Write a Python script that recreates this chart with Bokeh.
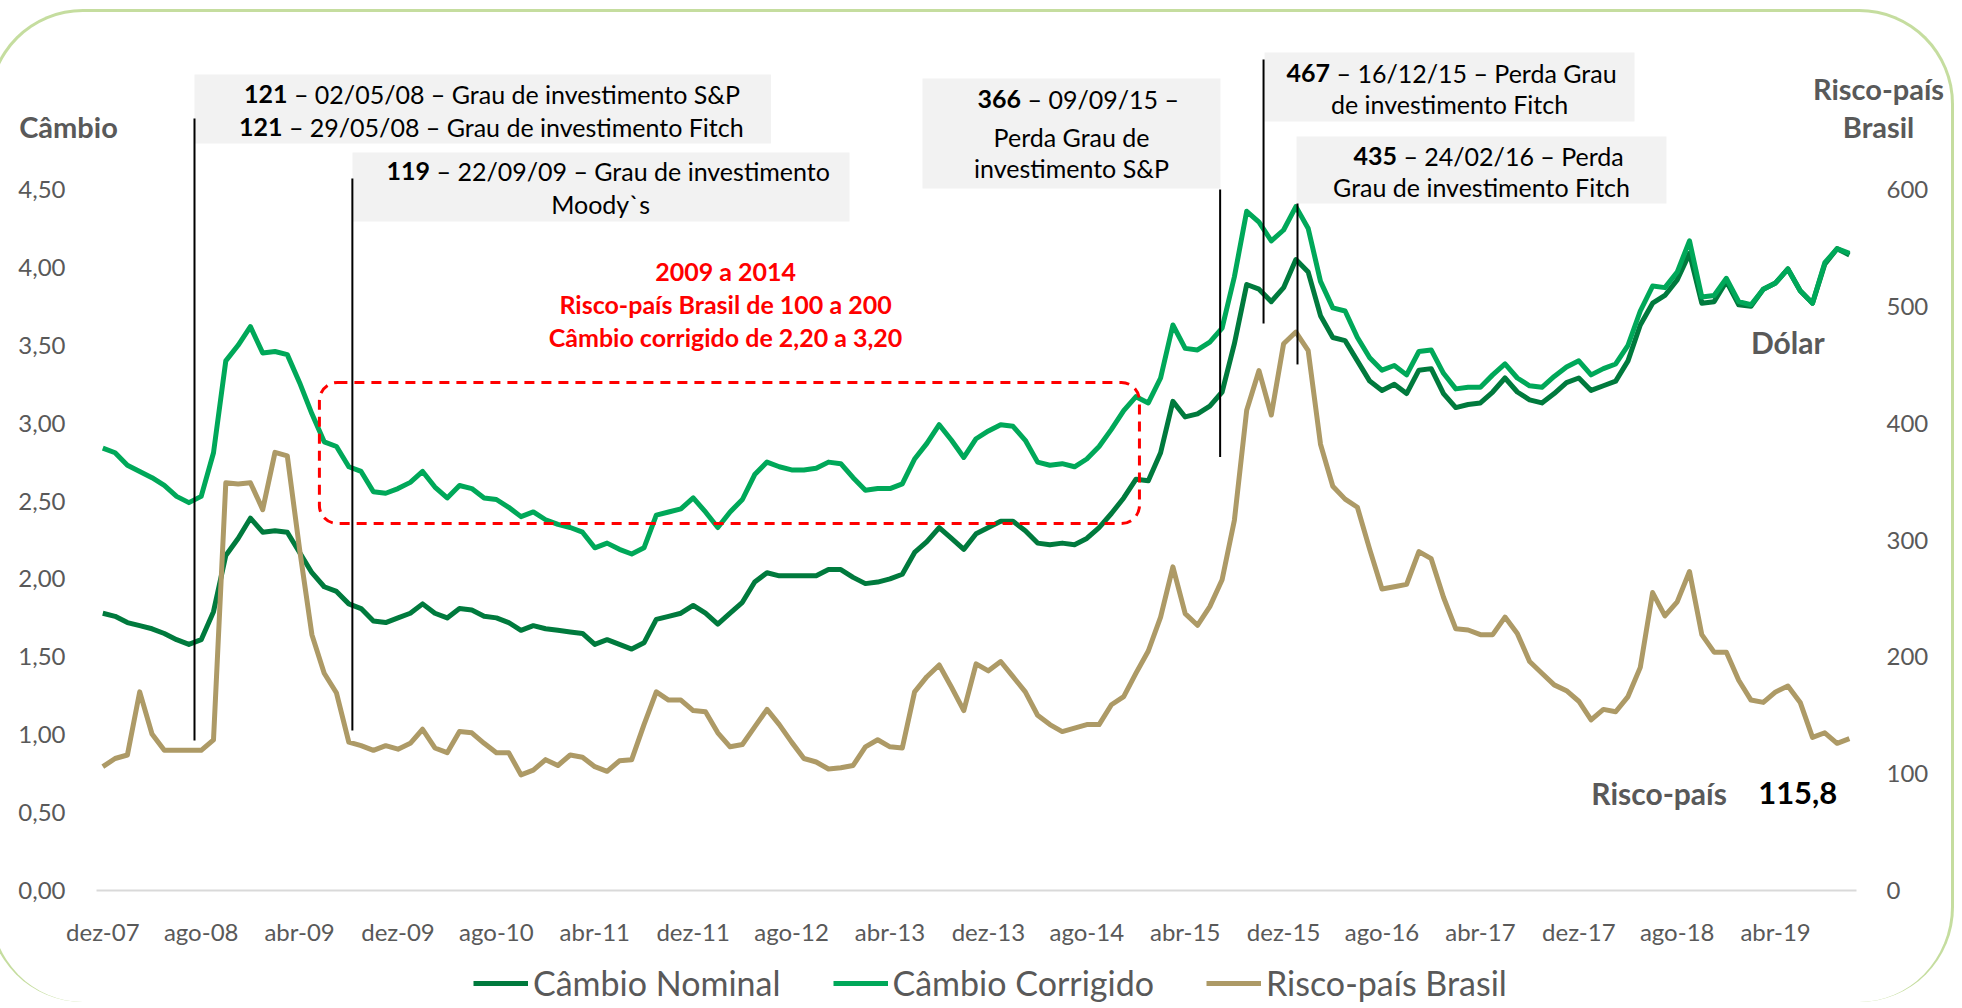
from bokeh.plotting import figure
from bokeh.models import (Range1d, LinearAxis, FixedTicker, CustomJSTickFormatter, Label,
                          BoxAnnotation, Legend, LegendItem)
from bokeh.embed import file_html
from bokeh.resources import INLINE

# ---------------- data (monthly, dez-07 .. out-19) ----------------
cambio_nominal = [
    1.78, 1.76, 1.72, 1.70, 1.68, 1.65, 1.61, 1.58, 1.61, 1.79,
    2.15, 2.26, 2.39, 2.30, 2.31, 2.30, 2.17, 2.04, 1.95, 1.92,
    1.84, 1.81, 1.73, 1.72, 1.75, 1.78, 1.84, 1.78, 1.75, 1.81,
    1.80, 1.76, 1.75, 1.72, 1.67, 1.70, 1.68, 1.67, 1.66, 1.65,
    1.58, 1.61, 1.58, 1.55, 1.59, 1.74, 1.76, 1.78, 1.83, 1.78,
    1.71, 1.78, 1.85, 1.98, 2.04, 2.02, 2.02, 2.02, 2.02, 2.06,
    2.06, 2.01, 1.97, 1.98, 2.00, 2.03, 2.17, 2.24, 2.33, 2.26,
    2.19, 2.29, 2.33, 2.37, 2.37, 2.31, 2.23, 2.22, 2.23, 2.22,
    2.26, 2.33, 2.42, 2.52, 2.64, 2.63, 2.81, 3.14, 3.04, 3.06,
    3.11, 3.20, 3.51, 3.89, 3.86, 3.78, 3.87, 4.05, 3.97, 3.69,
    3.55, 3.53, 3.40, 3.27, 3.21, 3.25, 3.19, 3.34, 3.35, 3.19,
    3.10, 3.12, 3.13, 3.20, 3.29, 3.20, 3.15, 3.13, 3.19, 3.26,
    3.29, 3.21, 3.24, 3.27, 3.40, 3.63, 3.77, 3.82, 3.92, 4.09,
    3.77, 3.78, 3.91, 3.76, 3.75, 3.86, 3.90, 3.99, 3.85, 3.77,
    4.02, 4.12, 4.08,
]
cambio_corrigido = [
    2.84, 2.81, 2.73, 2.69, 2.65, 2.60, 2.53, 2.49, 2.53, 2.81,
    3.40, 3.50, 3.62, 3.45, 3.46, 3.44, 3.26, 3.06, 2.88, 2.85,
    2.72, 2.69, 2.56, 2.55, 2.58, 2.62, 2.69, 2.59, 2.52, 2.60,
    2.58, 2.52, 2.51, 2.46, 2.40, 2.43, 2.38, 2.35, 2.33, 2.30,
    2.20, 2.23, 2.19, 2.16, 2.20, 2.41, 2.43, 2.45, 2.52, 2.43,
    2.33, 2.43, 2.51, 2.67, 2.75, 2.72, 2.70, 2.70, 2.71, 2.75,
    2.74, 2.65, 2.57, 2.58, 2.58, 2.61, 2.77, 2.87, 2.99, 2.89,
    2.78, 2.90, 2.95, 2.99, 2.98, 2.89, 2.75, 2.73, 2.74, 2.72,
    2.77, 2.85, 2.96, 3.08, 3.17, 3.13, 3.29, 3.63, 3.48, 3.47,
    3.52, 3.61, 3.94, 4.36, 4.29, 4.17, 4.24, 4.39, 4.25, 3.91,
    3.74, 3.72, 3.55, 3.42, 3.34, 3.37, 3.31, 3.46, 3.47, 3.32,
    3.22, 3.23, 3.23, 3.31, 3.38, 3.29, 3.24, 3.23, 3.30, 3.36,
    3.40, 3.31, 3.35, 3.38, 3.50, 3.72, 3.88, 3.87, 3.97, 4.17,
    3.81, 3.82, 3.93, 3.78, 3.76, 3.86, 3.90, 3.99, 3.85, 3.77,
    4.03, 4.12, 4.09,
]
risco_pais = [
    106, 113, 116, 170, 134, 120, 120, 120, 120, 129,
    349, 348, 349, 326, 375, 372, 292, 219, 186, 169,
    127, 124, 120, 124, 121, 126, 138, 122, 118, 136,
    135, 126, 118, 118, 99, 103, 112, 107, 116, 114,
    106, 102, 111, 112, 142, 170, 163, 163, 154, 153,
    135, 123, 125, 140, 155, 142, 127, 113, 110, 104,
    105, 107, 123, 129, 123, 122, 170, 183, 193, 174,
    154, 194, 188, 196, 183, 170, 150, 142, 136, 139,
    142, 142, 159, 166, 186, 205, 234, 277, 237, 227,
    243, 266, 317, 411, 445, 407, 468, 478, 462, 382,
    346, 335, 328, 292, 258, 260, 262, 290, 284, 251,
    224, 223, 219, 219, 234, 220, 196, 186, 176, 171,
    162, 146, 155, 153, 166, 191, 255, 235, 247, 273,
    219, 204, 204, 180, 163, 161, 170, 175, 161, 131,
    135, 126, 130,
]
months = list(range(len(cambio_nominal)))

tick_labels = ["dez-07", "ago-08", "abr-09", "dez-09", "ago-10", "abr-11", "dez-11",
               "ago-12", "abr-13", "dez-13", "ago-14", "abr-15", "dez-15", "ago-16",
               "abr-17", "dez-17", "ago-18", "abr-19"]
tick_months = [0, 8, 16, 24, 32, 40, 48, 56, 64, 72, 80, 88, 96, 104, 112, 120, 128, 136]
left_ticks = [0, 0.5, 1.0, 1.5, 2.0, 2.5, 3.0, 3.5, 4.0, 4.5]
right_ticks = [0, 100, 200, 300, 400, 500, 600]

series_names = ["Câmbio Nominal", "Câmbio Corrigido", "Risco-país Brasil"]
series_colors = ["#007A3D", "#00A859", "#AD9A66"]

# annotation callouts (event boxes)
box_left = [7.455, 20.30, 66.64, 94.45, 97.05]
box_right = [54.32, 60.71, 90.87, 124.53, 127.13]
box_top = [5.238, 4.737, 5.212, 5.379, 4.840]
box_bottom = [4.795, 4.295, 4.506, 4.936, 4.410]
mark_x = [7.455, 20.29, 90.84, 94.37, 97.13]
mark_top = [4.956, 4.571, 4.500, 5.334, 4.410]
mark_bottom = [0.963, 1.027, 2.783, 3.640, 3.377]
bold_rows = [
    (15.02, 5.110, "121", "\u00a0– 02/05/08 – Grau de investimento S&P"),
    (14.61, 4.904, "121", "\u00a0– 29/05/08 – Grau de investimento Fitch"),
    (26.61, 4.616, "119", "\u00a0– 22/09/09 – Grau de investimento"),
    (74.66, 5.084, "366", "\u00a0– 09/09/15 –"),
    (99.78, 5.251, "467", "\u00a0– 16/12/15 – Perda Grau"),
    (105.22, 4.718, "435", "\u00a0– 24/02/16 – Perda"),
]
plain_rows = [
    (40.47, 4.410, "Moody`s"),
    (78.76, 4.840, "Perda Grau de"),
    (78.76, 4.635, "investimento S&P"),
    (109.49, 5.046, "de investimento Fitch"),
    (112.09, 4.513, "Grau de investimento Fitch"),
]
red_rows = [
    (50.63, 3.980, "2009 a 2014"),
    (50.63, 3.768, "Risco-país Brasil de 100 a 200"),
    (50.63, 3.550, "Câmbio corrigido de 2,20 a 3,20"),
]

FONT = "Lato"
GRAY = "#595959"
RATIO = 0.0075  # right-axis units -> left-axis units
X0, X1 = -9.049, 150.789      # frame covers the whole canvas
Y0, Y1 = -0.7382, 5.6362
AX_L, AX_R = -0.51, 142.58    # where the chart's axes sit

p = figure(width=1966, height=993, x_range=Range1d(X0, X1), y_range=Range1d(Y0, Y1),
           output_backend="svg", toolbar_location=None,
           min_border_left=0, min_border_right=0, min_border_top=0, min_border_bottom=0,
           styles={"margin-left": "-12px", "margin-top": "9px",
                   "border": "3px solid #c5dd9f", "border-bottom": "none",
                   "border-radius": "95px"})
p.title.visible = False
p.background_fill_color = None
p.border_fill_color = None
p.outline_line_color = None
p.xgrid.visible = False
p.ygrid.visible = False
p.extra_y_ranges = {"risk": Range1d(Y0 / RATIO, Y1 / RATIO)}

# axes (fixed inside the canvas)
xa = p.xaxis[0]
xa.fixed_location = 0
xa.bounds = (AX_L, AX_R)
xa.ticker = FixedTicker(ticks=tick_months)
xa.major_label_overrides = {m: t for m, t in zip(tick_months, tick_labels)}
xa.axis_line_color = "#d9d9d9"
xa.axis_line_width = 2
xa.major_tick_line_color = None
xa.minor_tick_line_color = None
xa.major_label_text_font = FONT
xa.major_label_text_font_size = "24px"
xa.major_label_text_color = GRAY
xa.major_label_standoff = 20

ya = p.yaxis[0]
ya.fixed_location = AX_L
ya.ticker = FixedTicker(ticks=left_ticks)
ya.formatter = CustomJSTickFormatter(code="return tick.toFixed(2).replace('.', ',');")
ya.axis_line_color = None
ya.major_tick_line_color = None
ya.minor_tick_line_color = None
ya.major_label_text_font = FONT
ya.major_label_text_font_size = "24px"
ya.major_label_text_color = GRAY
ya.major_label_standoff = 25

ra = LinearAxis(y_range_name="risk", ticker=FixedTicker(ticks=right_ticks), fixed_location=AX_R)
ra.axis_line_color = None
ra.major_tick_line_color = None
ra.minor_tick_line_color = None
ra.major_label_text_font = FONT
ra.major_label_text_font_size = "24px"
ra.major_label_text_color = GRAY
ra.major_label_standoff = 24
p.add_layout(ra, "right")

# series
r_nom = p.line(months, cambio_nominal, line_color=series_colors[0], line_width=5, line_join="round")
r_cor = p.line(months, cambio_corrigido, line_color=series_colors[1], line_width=5, line_join="round")
r_risk = p.line(months, risco_pais, line_color=series_colors[2], line_width=5, line_join="round",
                y_range_name="risk")

# callout boxes and marker lines
p.quad(left=box_left, right=box_right, top=box_top, bottom=box_bottom,
       fill_color="#f2f2f2", line_color=None)
p.segment(x0=mark_x, y0=mark_bottom, x1=mark_x, y1=mark_top, line_color="black", line_width=2)

p.add_layout(BoxAnnotation(left=17.61, right=84.28, top=3.261, bottom=2.356,
                           fill_color=None, fill_alpha=0, line_color="#ff0000", line_alpha=1.0,
                           line_width=3, line_dash="10 7", border_radius=18))


def add_label(x, y, text, size, color, bold=False, align="center"):
    p.add_layout(Label(x=x, y=y, text=text, text_font=FONT, text_font_size=size,
                       text_color=color, text_font_style="bold" if bold else "normal",
                       text_align=align, text_baseline="middle"))


for x, y, num, rest in bold_rows:
    add_label(x, y, num, "25px", "black", bold=True, align="right")
    add_label(x, y, rest, "25px", "black", align="left")
for x, y, t in plain_rows:
    add_label(x, y, t, "25px", "black")
for x, y, t in red_rows:
    add_label(x, y, t, "25px", "#ff0000", bold=True)

add_label(136.99, 3.524, "Dólar", "30px", GRAY, bold=True)
add_label(126.53, 0.623, "Risco-país", "30px", GRAY, bold=True)
add_label(137.8, 0.623, "115,8", "31px", "black", bold=True)
add_label(-2.79, 4.904, "Câmbio", "29px", GRAY, bold=True)
add_label(144.37, 5.148, "Risco-país", "29px", GRAY, bold=True)
add_label(144.37, 4.904, "Brasil", "29px", GRAY, bold=True)

legend = Legend(items=[LegendItem(label=series_names[0], renderers=[r_nom]),
                       LegendItem(label=series_names[1], renderers=[r_cor]),
                       LegendItem(label=series_names[2], renderers=[r_risk])],
                orientation="horizontal", location=(482, 2),
                label_text_font=FONT, label_text_font_size="34px", label_text_color=GRAY,
                glyph_width=55, glyph_height=40, label_standoff=5, spacing=52,
                padding=0, margin=0, border_line_color=None, background_fill_alpha=0)
p.add_layout(legend, "center")

open("out.html", "w").write(file_html(p, INLINE))
